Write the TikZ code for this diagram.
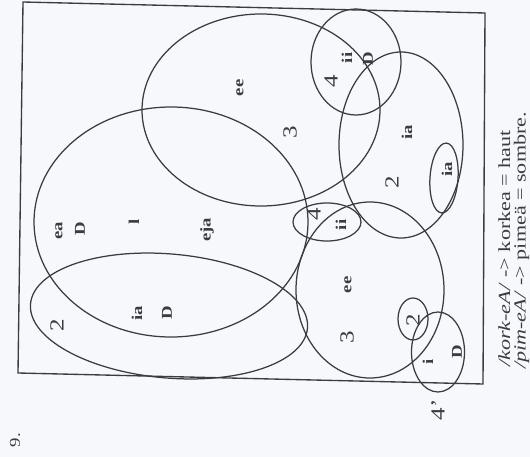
\documentclass[tikz,border=0pt]{standalone}
\usepackage{graphicx}
\usepackage{fontspec}
\setmainfont{Liberation Serif}
\usetikzlibrary{shapes.geometric}
\definecolor{ink}{RGB}{58,60,66}
\definecolor{paper}{RGB}{246,248,251}
\tikzset{
  curve/.style={draw=ink, line width=1.25pt, ellipse, inner sep=0pt, fill=none},
  lab/.style={text=ink, rotate=90, inner sep=0pt, font=\bfseries\fontsize{15}{15}\selectfont},
  num/.style={text=ink, rotate=90, inner sep=0pt, font=\fontsize{20}{20}\selectfont},
  note/.style={text=ink, rotate=90, inner sep=0pt, anchor=base west, font=\fontsize{17}{17}\selectfont},
}
\newcommand{\st}[1]{\scalebox{1.25}[1]{#1}}
\begin{document}
\begin{tikzpicture}[x=1pt,y=-1pt]
\useasboundingbox (0,0) rectangle (530,457);
\fill[paper] (0,0) rectangle (530,457);
\clip (0,0) rectangle (530,457);
% frame
\coordinate (f1) at (23,2);
\coordinate (f2) at (485,13);
\coordinate (f3) at (483,384);
\coordinate (f4) at (18,373);
\draw[ink, line width=1.35pt] (f1) -- (f2) -- (f3) -- (f4) -- cycle;
% ellipses
\node[curve, minimum width=238pt, minimum height=192pt] (A) at (261,110) {};
\node[curve, minimum width=274pt, minimum height=230pt] (B) at (171,222) {};
\node[curve, minimum width=278pt, minimum height=124pt, rotate=-5] (C) at (169,316) {};
\node[curve, minimum width=148pt, minimum height=176pt] (D) at (370,290) {};
\node[curve, minimum width=90pt, minimum height=106pt] (E) at (356,62) {};
\node[curve, minimum width=124pt, minimum height=186pt] (F) at (401,145) {};
\node[curve, minimum width=28pt, minimum height=70pt, rotate=-4] (G) at (444,178) {};
\node[curve, minimum width=68pt, minimum height=38pt] (H) at (327,222) {};
\node[curve, minimum width=30pt, minimum height=42pt] (I) at (413,319) {};
\node[curve, minimum width=53pt, minimum height=80pt] (J) at (438,352) {};
% labels in A
\node[lab] (aee) at (240,88) {\st{ee}};
\node[num] (a3) at (290,132) {\st{3}};
% labels in B
\node[lab] (bea) at (59,231) {\st{ea}};
\node[lab] (bD) at (80,229) {\st{D}};
\node[lab] (bl) at (134,222) {\st{l}};
\node[lab] (beja) at (207,230) {\st{eja}};
% labels in C
\node[num] (c2) at (57,325) {\st{2}};
\node[lab] (cia) at (137,313) {\st{ia}};
\node[lab] (cD) at (167,313) {\st{D}};
% labels in D
\node[lab] (dee) at (348,285) {\st{ee}};
\node[num] (d3) at (347,337) {\st{3}};
% labels in E
\node[num] (e4) at (331,81) {\st{4}};
\node[lab] (eii) at (347,58) {\st{ii}};
\node[lab] (eD) at (368,59) {\st{D}};
% labels in F and G
\node[lab] (fia) at (407,132) {\st{ia}};
\node[num] (f2l) at (392,182) {\st{2}};
\node[lab] (gia) at (447,169) {\st{ia}};
% labels in H
\node[num] (h4) at (314,214) {\st{4}};
\node[lab] (hii) at (341,225) {\st{ii}};
% label in I
\node[num] (i2) at (413,320) {\st{2}};
% labels in J
\node[lab] (ji) at (428,362) {\st{i}};
\node[lab] (jD) at (457,352) {\st{D}};
\node[num] (j4) at (438,410) {\st{4'}};
% page number
\node[lab, font=\fontsize{15}{15}\selectfont] (nine) at (15,440) {\st{9.}};
% notes
\node[note] (n1) at (510,367) {\scalebox{1.3}[1]{\textit{/kork-eA/} -> korkea = haut}};
\node[note] (n2) at (525.5,369) {\scalebox{1.3}[1]{\textit{/pim-eA/} -> pimeä = sombre.}};
\end{tikzpicture}
\end{document}
